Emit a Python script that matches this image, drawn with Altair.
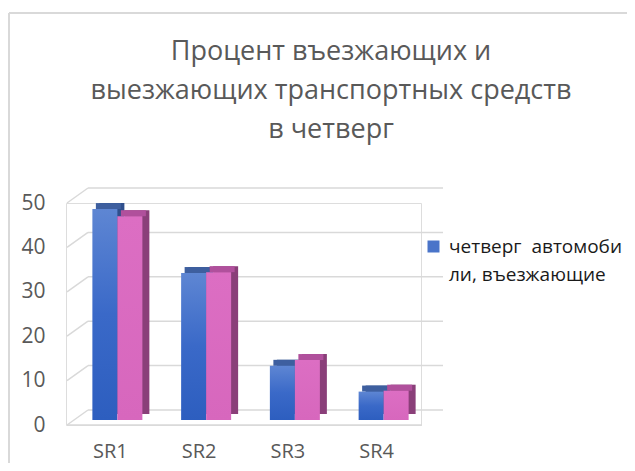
import altair as alt
import pandas as pd

categories = ["SR1", "SR2", "SR3", "SR4"]
series_in = "четверг\u00a0 автомобили, въезжающие"
series_out = "четверг\u00a0 автомобили, выезжающие"
values_in = [47.5, 33.1, 12.2, 6.4]
values_out = [45.9, 33.3, 13.5, 6.6]
y_ticks = [0, 10, 20, 30, 40, 50]
title_lines = ["Процент въезжающих и", "выезжающих транспортных средств", "в четверг"]

rows = []
for c, a, b in zip(categories, values_in, values_out):
    rows.append({"cat": c, "series": series_in, "value": a})
    rows.append({"cat": c, "series": series_out, "value": b})
df = pd.DataFrame(rows)
grid = pd.DataFrame({"value": y_ticks})
zero = grid[grid.value == 0]

FONT = "Open Sans"
GREY = "#595959"
LINE = "#d9d9d9"
W, H = 355, 222
BW = 25
DX, DY = 7, -6
BASE = -5

xs = alt.X("cat:N", sort=categories,
           scale=alt.Scale(domain=categories, paddingInner=0, paddingOuter=0),
           axis=alt.Axis(title=None, domain=False, ticks=False, labelAngle=0,
                         labelFont=FONT, labelFontSize=20, labelColor=GREY,
                         labelBaseline="alphabetic", labelPadding=32))
ys = alt.Y("value:Q", scale=alt.Scale(domain=[0, 50], nice=False, zero=True),
           axis=alt.Axis(title=None, values=y_ticks, domain=False, ticks=False, grid=False,
                         labelFont=FONT, labelFontSize=21, labelColor=GREY, labelPadding=21))

grid_back = alt.Chart(grid).mark_rule(color=LINE, strokeWidth=1.5, yOffset=-15).encode(
    y=ys, x=alt.value(22), x2=alt.value(377))
grid_slant = alt.Chart(grid).mark_rule(color=LINE, strokeWidth=1.5, y2Offset=-15).encode(
    y=ys, y2=alt.Y2("value:Q"), x=alt.value(1), x2=alt.value(22))
floor_front = alt.Chart(zero).mark_rule(color=LINE, strokeWidth=1.5).encode(
    y=ys, x=alt.value(1), x2=alt.value(356))


def faces(series, off, front_fill, top_col, side_col):
    base = alt.Chart(df).transform_filter(alt.datum.series == series)
    side = base.mark_bar(width=BW, color=side_col, xOffset=off + DX,
                         yOffset=BASE + DY, y2Offset=BASE + DY).encode(
        x=xs, y=ys, y2=alt.Y2(datum=0))
    top = base.mark_bar(width=BW, color=top_col, xOffset=off + DX / 2,
                        yOffset=BASE + DY, y2Offset=BASE).encode(
        x=xs, y=ys, y2=alt.Y2("value:Q"))
    front = base.mark_bar(width=BW, fill=front_fill, xOffset=off,
                          yOffset=BASE, y2Offset=BASE).encode(
        x=xs, y=ys, y2=alt.Y2(datum=0))
    return side, top, front


blue_grad = alt.Gradient(gradient="linear", x1=0, x2=0, y1=0, y2=1,
                         stops=[alt.GradientStop(color="#5e86d3", offset=0),
                                alt.GradientStop(color="#3a69c8", offset=0.5),
                                alt.GradientStop(color="#2d5ebf", offset=1)])
pink_grad = alt.Gradient(gradient="linear", x1=0, x2=0, y1=0, y2=1,
                         stops=[alt.GradientStop(color="#dc6ec3", offset=0),
                                alt.GradientStop(color="#d767bd", offset=1)])

bs, bt, bf = faces(series_in, -5.5, blue_grad, "#3e5f9f", "#2f4f8c")
ps, pt, pf = faces(series_out, 19.5, pink_grad, "#b0509c", "#8a3f79")

legend_layer = alt.Chart(df).transform_filter(alt.datum.series == series_in).mark_square(
    opacity=0, size=1).encode(
    x=xs, y=ys,
    color=alt.Color("series:N", scale=alt.Scale(domain=[series_in], range=["#4a74c9"]),
                    legend=alt.Legend(title=None, orient="none", legendX=358, legendY=34,
                                      symbolType="square", symbolSize=144, symbolOpacity=1,
                                      symbolStrokeWidth=0, labelFont=FONT, labelFontSize=19,
                                      labelColor="#1a1a1a", labelLimit=300, labelOffset=6,
                                      labelExpr="[substring(datum.label,0,17), substring(datum.label,17)]")))

title_layer = alt.Chart(zero).mark_text(
    font=FONT, fontSize=27, color=GREY, align="center", baseline="middle", lineHeight=39
).encode(x=alt.value(265), y=alt.value(-151), text=alt.value(title_lines))

border_top = alt.Chart(zero).mark_rule(color=LINE, strokeWidth=2).encode(
    x=alt.value(-57), x2=alt.value(561), y=alt.value(-190))
border_left = alt.Chart(zero).mark_rule(color=LINE, strokeWidth=2).encode(
    x=alt.value(-57), y=alt.value(-190), y2=alt.value(270))

chart = alt.layer(
    border_top, border_left, title_layer,
    grid_back, grid_slant, floor_front,
    bs, bt, ps, pt, bf, pf, legend_layer
).properties(
    width=W, height=H,
    autosize=alt.AutoSizeParams(type="none"),
    padding={"left": 58, "top": 195, "right": 206, "bottom": 38},
).configure_view(stroke=None).configure(
    background="white",
    style={"guide-label": alt.MarkConfig(lineHeight=28)},
)

chart.save("out.html", embed_options={"renderer": "svg", "actions": False})
